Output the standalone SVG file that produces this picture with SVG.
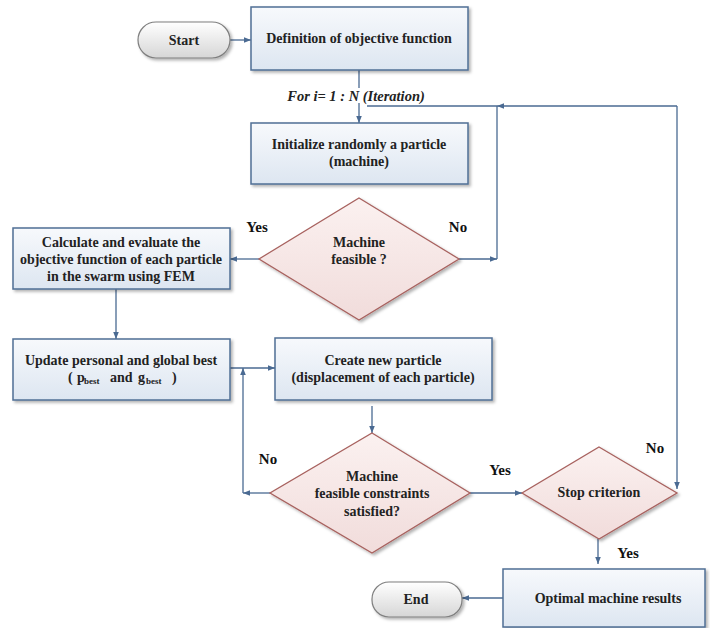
<svg xmlns="http://www.w3.org/2000/svg" width="710" height="628" viewBox="0 0 710 628">
<defs>
<linearGradient id="gBox" x1="0" y1="0" x2="0" y2="1"><stop offset="0" stop-color="#f7f9fc"/><stop offset="1" stop-color="#dde6f1"/></linearGradient>
<linearGradient id="gDia" x1="0" y1="0" x2="0" y2="1"><stop offset="0" stop-color="#fbf1f0"/><stop offset="1" stop-color="#f1dcdb"/></linearGradient>
<linearGradient id="gTerm" x1="0" y1="0" x2="0" y2="1"><stop offset="0" stop-color="#ffffff"/><stop offset="1" stop-color="#d6d6d6"/></linearGradient>
<filter id="sh" x="-10%" y="-10%" width="125%" height="130%"><feDropShadow dx="2" dy="2" stdDeviation="1.5" flood-color="#000" flood-opacity="0.3"/></filter>
<marker id="ar" viewBox="0 0 10 10" refX="10" refY="5" markerWidth="7" markerHeight="7" orient="auto" markerUnits="userSpaceOnUse"><path d="M0,1 L10,5 L0,9 z" fill="#4a6a92"/></marker>
</defs>
<style>
.box{fill:url(#gBox);stroke:#4f6f95;stroke-width:1.5;filter:url(#sh)}
.dia{fill:url(#gDia);stroke:#a8625f;stroke-width:1.3;filter:url(#sh)}
.term{fill:url(#gTerm);stroke:#7f7f7f;stroke-width:1.2;filter:url(#sh)}
.c{fill:none;stroke:#4a6a92;stroke-width:1.3}
text{font-family:"Liberation Serif","Times New Roman",serif;font-weight:bold;font-size:14px;fill:#222;text-anchor:middle}
.lbl{font-size:15px;fill:#111}
.sub{font-size:9px}
</style>
<rect width="710" height="628" fill="#fff"/>
<g id="connectors">
<path class="c" d="M230,40 H251" marker-end="url(#ar)"/>
<path class="c" d="M359,70 V88"/>
<path class="c" d="M359,103 V123" marker-end="url(#ar)"/>
<path class="c" d="M677,106 H497" marker-end="url(#ar)"/>
<path class="c" d="M497,106 H367"/>
<path class="c" d="M459,259 H497" marker-end="url(#ar)"/>
<path class="c" d="M497,259 V106"/>
<path class="c" d="M259,259 H230" marker-end="url(#ar)"/>
<path class="c" d="M116,289 V339" marker-end="url(#ar)"/>
<path class="c" d="M230,368 H275" marker-end="url(#ar)"/>
<path class="c" d="M270,493 H243" marker-end="url(#ar)"/>
<path class="c" d="M243,493 V368" marker-end="url(#ar)"/>
<path class="c" d="M372,406 V433" marker-end="url(#ar)"/>
<path class="c" d="M470,493 H522" marker-end="url(#ar)"/>
<path class="c" d="M677,106 V489" marker-end="url(#ar)"/>
<path class="c" d="M598,539 V564" marker-end="url(#ar)"/>
<path class="c" d="M503,598 H462" marker-end="url(#ar)"/>
</g>
<g id="labels">
<text x="356" y="101" style="font-style:italic;font-size:14.5px">For i= 1 : N (Iteration)</text>
<text class="lbl" x="257" y="232">Yes</text>
<text class="lbl" x="458" y="232">No</text>
<text class="lbl" x="268" y="464">No</text>
<text class="lbl" x="500" y="475">Yes</text>
<text class="lbl" x="655" y="453">No</text>
<text class="lbl" x="628" y="558">Yes</text>
</g>
<g id="start"><rect class="term" x="138" y="22" width="92" height="36" rx="18"/><text x="184" y="45">Start</text></g>
<g id="definition"><rect class="box" x="251" y="7" width="217" height="63"/><text x="359" y="43">Definition of objective function</text></g>
<g id="initialize"><rect class="box" x="251" y="123" width="217" height="61"/><text x="359" y="149">Initialize randomly a particle</text><text x="359" y="166">(machine)</text></g>
<g id="feasible1"><polygon class="dia" points="359,198 459,259 359,320 259,259"/><text x="359" y="247">Machine</text><text x="359" y="264">feasible ?</text></g>
<g id="calculate"><rect class="box" x="13" y="228" width="217" height="61"/><text x="121" y="247">Calculate and evaluate the</text><text x="121" y="264">objective function of each particle</text><text x="121" y="281">in the swarm using FEM</text></g>
<g id="update"><rect class="box" x="13" y="339" width="217" height="61"/><text x="121" y="365">Update personal and global best</text><text x="68" y="382" style="text-anchor:start">(<tspan x="77">p</tspan><tspan x="84" class="sub" dy="2">best</tspan><tspan x="110" dy="-2">and</tspan><tspan x="138">g</tspan><tspan x="146" class="sub" dy="2">best</tspan><tspan x="172" dy="-2">)</tspan></text></g>
<g id="create"><rect class="box" x="275" y="338" width="217" height="62"/><text x="383" y="365">Create new particle</text><text x="383" y="382">(displacement of each particle)</text></g>
<g id="feasible2"><polygon class="dia" points="372,433 470,493 372,553 270,493"/><text x="372" y="481">Machine</text><text x="372" y="498">feasible constraints</text><text x="372" y="516">satisfied?</text></g>
<g id="stop"><polygon class="dia" points="599,447 677,493 599,539 522,493"/><text x="599" y="497">Stop criterion</text></g>
<g id="optimal"><rect class="box" x="503" y="569" width="202" height="58"/><text x="608" y="603">Optimal machine results</text></g>
<g id="end"><rect class="term" x="372" y="582" width="90" height="35" rx="17"/><text x="416" y="604">End</text></g>
</svg>
